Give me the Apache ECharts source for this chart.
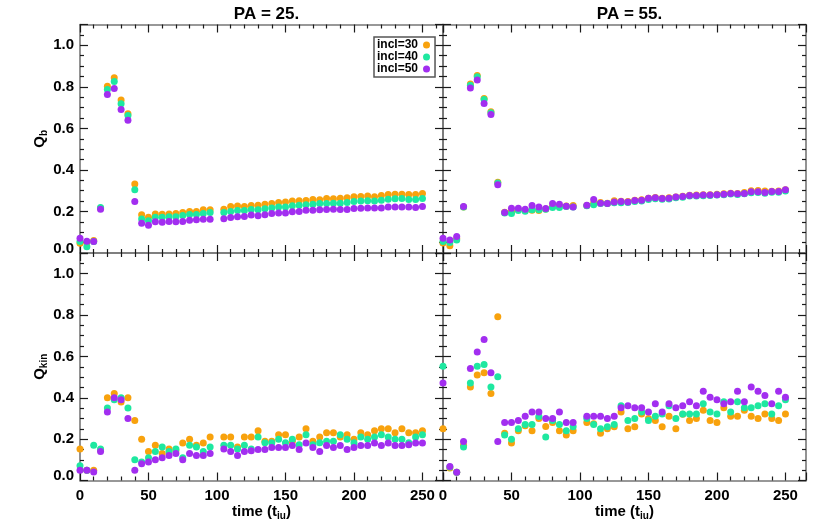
<!DOCTYPE html>
<html>
<head>
<meta charset="utf-8">
<script src="https://cdn.jsdelivr.net/npm/echarts@6/dist/echarts.min.js"></script>
<style>
  html, body { margin: 0; padding: 0; background: #ffffff; }
  #chart { width: 830px; height: 532px; }
</style>
</head>
<body>
<div id="chart"></div>
<script>
// time samples (t_iu); t = 100 is missing in the source
const time = [0, 5, 10, 15, 20, 25, 30, 35, 40, 45, 50, 55, 60, 65, 70, 75, 80, 85, 90, 95,
  105, 110, 115, 120, 125, 130, 135, 140, 145, 150, 155, 160, 165, 170, 175, 180, 185, 190, 195, 200,
  205, 210, 215, 220, 225, 230, 235, 240, 245, 250]

const seriesNames = ['incl=30', 'incl=40', 'incl=50']
const panelTitles = ['PA = 25.', 'PA = 55.']
const yTicks = [0, 0.2, 0.4, 0.6, 0.8, 1.0]
const xTicks = [0, 50, 100, 150, 200, 250]

// Q_b, PA = 25
const qbPa25Incl30 = [0.047, 0.05, 0.06, 0.215, 0.803, 0.844, 0.736, 0.67, 0.332, 0.184, 0.172, 0.188, 0.186, 0.188, 0.19, 0.195, 0.2, 0.2, 0.208, 0.208,
  0.211, 0.224, 0.226, 0.224, 0.229, 0.23, 0.235, 0.238, 0.243, 0.246, 0.25, 0.251, 0.253, 0.258, 0.256, 0.262, 0.261, 0.264, 0.266, 0.271,
  0.272, 0.274, 0.271, 0.277, 0.282, 0.283, 0.283, 0.282, 0.282, 0.287]
const qbPa25Incl40 = [0.055, 0.03, 0.055, 0.219, 0.787, 0.826, 0.718, 0.662, 0.304, 0.164, 0.155, 0.172, 0.172, 0.175, 0.175, 0.18, 0.185, 0.185, 0.19, 0.195,
  0.195, 0.2, 0.205, 0.205, 0.21, 0.208, 0.213, 0.217, 0.221, 0.222, 0.227, 0.23, 0.232, 0.235, 0.238, 0.238, 0.24, 0.24, 0.243, 0.248,
  0.25, 0.251, 0.25, 0.254, 0.259, 0.261, 0.262, 0.258, 0.258, 0.262]
const qbPa25Incl50 = [0.071, 0.056, 0.055, 0.211, 0.763, 0.792, 0.691, 0.639, 0.248, 0.143, 0.134, 0.15, 0.148, 0.152, 0.15, 0.152, 0.158, 0.16, 0.163, 0.163,
  0.165, 0.171, 0.174, 0.176, 0.183, 0.179, 0.184, 0.19, 0.193, 0.193, 0.198, 0.2, 0.206, 0.206, 0.208, 0.209, 0.211, 0.209, 0.209, 0.214,
  0.216, 0.217, 0.217, 0.217, 0.222, 0.222, 0.222, 0.221, 0.219, 0.224]

// Q_b, PA = 55
const qbPa55Incl30 = [0.048, 0.035, 0.07, 0.222, 0.813, 0.855, 0.744, 0.68, 0.34, 0.196, 0.2, 0.21, 0.205, 0.206, 0.205, 0.212, 0.225, 0.225, 0.226, 0.229,
  0.229, 0.24, 0.243, 0.24, 0.251, 0.249, 0.248, 0.254, 0.256, 0.264, 0.267, 0.264, 0.266, 0.27, 0.273, 0.278, 0.279, 0.281, 0.281, 0.283,
  0.285, 0.288, 0.287, 0.291, 0.3, 0.301, 0.299, 0.297, 0.298, 0.304]
const qbPa55Incl40 = [0.055, 0.05, 0.063, 0.222, 0.807, 0.849, 0.739, 0.675, 0.337, 0.193, 0.19, 0.205, 0.201, 0.208, 0.208, 0.211, 0.219, 0.219, 0.224, 0.221,
  0.228, 0.232, 0.238, 0.238, 0.242, 0.242, 0.243, 0.248, 0.25, 0.258, 0.261, 0.259, 0.26, 0.266, 0.268, 0.274, 0.275, 0.276, 0.277, 0.279,
  0.281, 0.284, 0.282, 0.285, 0.29, 0.291, 0.288, 0.292, 0.293, 0.299]
const qbPa55Incl50 = [0.071, 0.063, 0.079, 0.224, 0.794, 0.833, 0.72, 0.667, 0.329, 0.195, 0.216, 0.216, 0.211, 0.229, 0.222, 0.214, 0.238, 0.235, 0.225, 0.222,
  0.23, 0.258, 0.24, 0.238, 0.245, 0.248, 0.246, 0.253, 0.254, 0.264, 0.266, 0.262, 0.264, 0.269, 0.272, 0.277, 0.277, 0.279, 0.279, 0.28,
  0.283, 0.287, 0.285, 0.287, 0.295, 0.295, 0.291, 0.296, 0.296, 0.304]

// Q_kin, PA = 25
const qkPa25Incl30 = [0.152, 0.05, 0.05, 0.147, 0.4, 0.421, 0.379, 0.4, 0.29, 0.2, 0.14, 0.17, 0.131, 0.152, 0.145, 0.181, 0.2, 0.17, 0.181, 0.21,
  0.21, 0.21, 0.162, 0.21, 0.21, 0.24, 0.19, 0.19, 0.221, 0.221, 0.19, 0.21, 0.25, 0.19, 0.21, 0.231, 0.231, 0.21, 0.221, 0.2,
  0.231, 0.221, 0.24, 0.25, 0.25, 0.231, 0.25, 0.231, 0.231, 0.24]
const qkPa25Incl40 = [0.071, 0.05, 0.171, 0.152, 0.35, 0.39, 0.4, 0.35, 0.1, 0.09, 0.11, 0.14, 0.162, 0.14, 0.152, 0.11, 0.17, 0.162, 0.14, 0.162,
  0.17, 0.17, 0.152, 0.17, 0.152, 0.21, 0.182, 0.182, 0.2, 0.182, 0.2, 0.173, 0.221, 0.173, 0.182, 0.19, 0.19, 0.221, 0.2, 0.182,
  0.21, 0.2, 0.21, 0.221, 0.21, 0.2, 0.2, 0.182, 0.21, 0.221]
const qkPa25Incl50 = [0.05, 0.05, 0.041, 0.14, 0.331, 0.4, 0.39, 0.3, 0.05, 0.081, 0.09, 0.1, 0.11, 0.121, 0.131, 0.1, 0.131, 0.121, 0.121, 0.131,
  0.152, 0.14, 0.121, 0.14, 0.144, 0.15, 0.15, 0.16, 0.16, 0.16, 0.169, 0.15, 0.181, 0.16, 0.14, 0.169, 0.16, 0.169, 0.15, 0.16,
  0.169, 0.169, 0.181, 0.169, 0.181, 0.169, 0.169, 0.173, 0.181, 0.181]

// Q_kin, PA = 55
const qkPa55Incl30 = [0.25, 0.06, 0.04, 0.17, 0.452, 0.51, 0.521, 0.421, 0.792, 0.229, 0.181, 0.24, 0.265, 0.24, 0.3, 0.261, 0.281, 0.24, 0.22, 0.24,
  0.281, 0.275, 0.229, 0.25, 0.26, 0.331, 0.25, 0.26, 0.321, 0.3, 0.29, 0.26, 0.311, 0.25, 0.32, 0.29, 0.3, 0.34, 0.29, 0.281,
  0.352, 0.311, 0.311, 0.34, 0.311, 0.3, 0.321, 0.3, 0.29, 0.321]
const qkPa55Incl40 = [0.552, 0.065, 0.04, 0.162, 0.471, 0.552, 0.561, 0.452, 0.502, 0.22, 0.2, 0.25, 0.271, 0.271, 0.31, 0.21, 0.29, 0.271, 0.24, 0.26,
  0.3, 0.271, 0.25, 0.26, 0.271, 0.361, 0.29, 0.3, 0.331, 0.29, 0.311, 0.321, 0.361, 0.3, 0.321, 0.321, 0.321, 0.371, 0.331, 0.321,
  0.381, 0.331, 0.381, 0.352, 0.352, 0.361, 0.371, 0.321, 0.361, 0.39]
const qkPa55Incl50 = [0.471, 0.068, 0.04, 0.189, 0.542, 0.621, 0.682, 0.521, 0.189, 0.281, 0.281, 0.29, 0.311, 0.331, 0.331, 0.3, 0.3, 0.331, 0.281, 0.281,
  0.311, 0.311, 0.311, 0.3, 0.311, 0.352, 0.361, 0.352, 0.352, 0.331, 0.371, 0.331, 0.371, 0.352, 0.361, 0.381, 0.361, 0.432, 0.402, 0.39,
  0.371, 0.381, 0.432, 0.381, 0.452, 0.432, 0.411, 0.371, 0.432, 0.402]

const panels = [
  [qbPa25Incl30, qbPa25Incl40, qbPa25Incl50],
  [qbPa55Incl30, qbPa55Incl40, qbPa55Incl50],
  [qkPa25Incl30, qkPa25Incl40, qkPa25Incl50],
  [qkPa55Incl30, qkPa55Incl40, qkPa55Incl50]
]

const colors = ['#f8a20d', '#1ee8a0', '#a22ef0']
const FONT = 'Liberation Sans, Arial, Helvetica, sans-serif'
const frameColor = '#777777'
const tickColor = '#1a1a1a'

const chart = echarts.init(document.getElementById('chart'), null, { renderer: 'canvas' })

const grids = [
  { left: 80, top: 24.5, width: 363, height: 228.5 },
  { left: 443, top: 24.5, width: 363, height: 228.5 },
  { left: 80, top: 253, width: 363, height: 227.5 },
  { left: 443, top: 253, width: 363, height: 227.5 }
]

const axisLine = { show: true, onZero: false, lineStyle: { color: frameColor, width: 1.6 } }
const axisTick = { show: true, inside: true, length: 8, lineStyle: { color: tickColor, width: 1.2 } }
const minorTick = { show: true, length: 4, lineStyle: { color: tickColor, width: 1.2 } }

const xAxes = []
const yAxes = []
grids.forEach((g, i) => {
  const isBottom = i >= 2
  const isLeft = i % 2 === 0
  const base = {
    type: 'value', gridIndex: i, min: 0, max: 265, interval: 50,
    axisLine, axisTick, minorTick: Object.assign({ splitNumber: 5 }, minorTick),
    splitLine: { show: false }
  }
  xAxes.push(Object.assign({}, base, {
    position: 'bottom',
    name: isBottom ? '{a|time (t}{s|iu}{a|)}' : '',
    nameLocation: 'middle',
    nameGap: 22,
    nameTextStyle: {
      rich: {
        a: { fontFamily: FONT, fontWeight: 'bold', fontSize: 15, color: '#000' },
        s: { fontFamily: FONT, fontWeight: 'bold', fontSize: 10, color: '#000', padding: [9, 0, 0, 0] }
      }
    },
    axisLabel: {
      show: isBottom, margin: 8, showMaxLabel: false,
      fontFamily: FONT, fontWeight: 'bold', fontSize: 15, color: '#000',
      formatter: v => xTicks.includes(v) ? String(v) : ''
    }
  }))
  xAxes.push(Object.assign({}, base, { position: 'top', axisLabel: { show: false } }))

  const ybase = {
    type: 'value', gridIndex: i, min: 0, max: 1.1, interval: 0.2,
    axisLine, axisTick, minorTick: Object.assign({ splitNumber: 4 }, minorTick),
    splitLine: { show: false }
  }
  yAxes.push(Object.assign({}, ybase, {
    position: 'left',
    name: isLeft ? (isBottom ? '{q|Q}{s|kin}' : '{q|Q}{s|b}') : '',
    nameLocation: 'middle',
    nameRotate: 90,
    nameGap: 31,
    nameTextStyle: {
      rich: {
        q: { fontFamily: FONT, fontWeight: 'bold', fontSize: 15, color: '#000' },
        s: { fontFamily: FONT, fontWeight: 'bold', fontSize: 10, color: '#000', padding: [9, 0, 0, 0] }
      }
    },
    axisLabel: {
      show: isLeft, margin: 6, showMaxLabel: false,
      fontFamily: FONT, fontWeight: 'bold', fontSize: 15, color: '#000',
      formatter: v => {
        if (!yTicks.some(t => Math.abs(t - v) < 1e-6)) return ''
        return v === 0 ? '{z|0.0}' : v.toFixed(1)
      },
      rich: {
        z: { fontFamily: FONT, fontWeight: 'bold', fontSize: 15, color: '#000', padding: [0, 0, 9, 0] }
      }
    }
  }))
  yAxes.push(Object.assign({}, ybase, { position: 'right', axisLabel: { show: false } }))
})

const series = []
panels.forEach((vals, p) => {
  vals.forEach((arr, k) => {
    series.push({
      name: seriesNames[k],
      type: 'scatter',
      xAxisIndex: p * 2,
      yAxisIndex: p * 2,
      symbol: 'circle',
      symbolSize: 7,
      clip: false,
      itemStyle: { color: colors[k], opacity: 1 },
      data: time.map((t, j) => [t, arr[j]]),
      animation: false
    })
  })
})

chart.setOption({
  backgroundColor: '#ffffff',
  animation: false,
  title: [
    { text: panelTitles[0], left: 261.5, top: 1, textAlign: 'center',
      textStyle: { fontFamily: FONT, fontWeight: 'bold', fontSize: 17, color: '#000' } },
    { text: panelTitles[1], left: 624.5, top: 1, textAlign: 'center',
      textStyle: { fontFamily: FONT, fontWeight: 'bold', fontSize: 17, color: '#000' } }
  ],
  legend: {
    data: seriesNames,
    orient: 'vertical',
    left: 374,
    top: 37,
    align: 'right',
    itemWidth: 7,
    itemHeight: 7,
    itemGap: 0,
    padding: [2, 5, 2, 3],
    borderColor: '#555',
    borderWidth: 1.5,
    backgroundColor: '#fff',
    selectedMode: false,
    textStyle: { fontFamily: FONT, fontWeight: 'bold', fontSize: 12, color: '#000', lineHeight: 12 }
  },
  grid: grids,
  xAxis: xAxes,
  yAxis: yAxes,
  series: series
})
</script>
</body>
</html>
